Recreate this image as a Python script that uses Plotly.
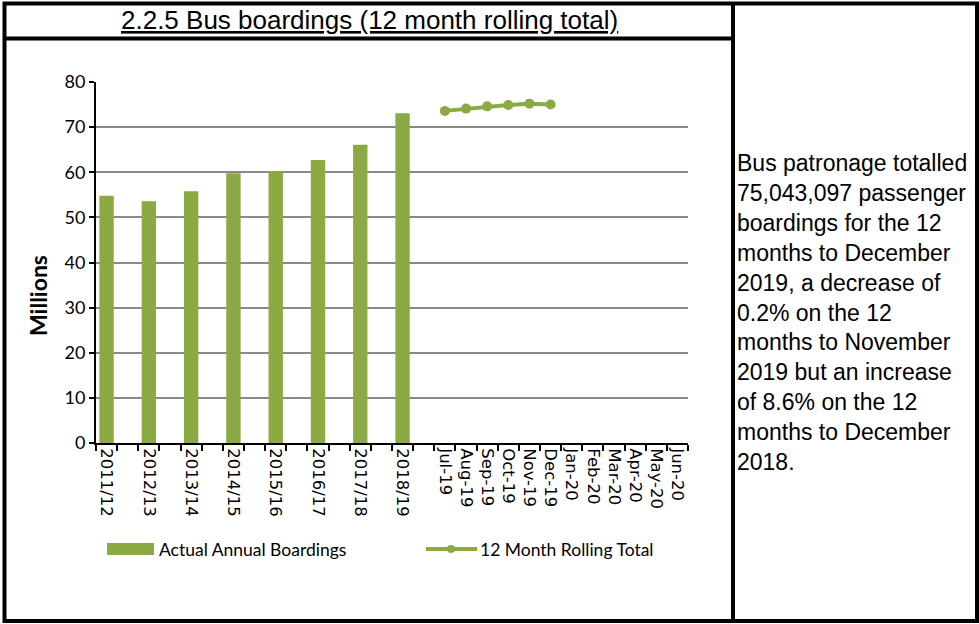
import plotly.graph_objects as go

# ---------------- data ----------------
years = ["2011/12", "2012/13", "2013/14", "2014/15", "2015/16", "2016/17", "2017/18", "2018/19"]
year_values = [54.8, 53.6, 55.8, 59.8, 60.3, 62.7, 66.1, 73.1]

months = ["Jul-19", "Aug-19", "Sep-19", "Oct-19", "Nov-19", "Dec-19",
          "Jan-20", "Feb-20", "Mar-20", "Apr-20", "May-20", "Jun-20"]
month_values = [73.6, 74.1, 74.6, 74.9, 75.2, 75.0, None, None, None, None, None, None]

y_ticks = [0, 10, 20, 30, 40, 50, 60, 70, 80]

title_text = "2.2.5 Bus boardings (12 month rolling total)"
side_text = ("Bus patronage totalled<br>75,043,097 passenger<br>boardings for the 12<br>"
             "months to December<br>2019, a decrease of<br>0.2% on the 12<br>"
             "months to November<br>2019 but an increase<br>of 8.6% on the 12<br>"
             "months to December<br>2018.")

# category order: each year followed by an empty spacer slot, then months
categories = []
for i, y in enumerate(years):
    categories.append(y)
    categories.append(" " * (i + 1))
categories += months

GREEN = "#8BAA44"

W, H = 979, 624
L, R, T, B = 96, 688, 82, 443  # plot area in pixels


def px(x):
    return (x - L) / (R - L)


def py(y):
    return (B - y) / (B - T)


fig = go.Figure()
fig.add_trace(go.Scatter(x=categories, y=[None] * len(categories), mode="markers",
                         showlegend=False, hoverinfo="skip"))
fig.add_trace(go.Bar(x=years, y=year_values, marker=dict(color=GREEN, line=dict(width=0)),
                     name="Actual Annual Boardings", showlegend=False))
fig.add_trace(go.Scatter(x=months, y=month_values, mode="lines+markers",
                         line=dict(color=GREEN, width=4),
                         marker=dict(color=GREEN, size=10),
                         name="12 Month Rolling Total", showlegend=False))

fig.update_layout(
    width=W, height=H, autosize=False,
    margin=dict(l=L, r=W - R, t=T, b=H - B, pad=0),
    paper_bgcolor="white", plot_bgcolor="white",
    bargap=0.32,
    font=dict(family="Liberation Sans, Arial", color="black"),
    xaxis=dict(type="category", categoryorder="array", categoryarray=categories,
               range=[-0.5, len(categories) - 0.5], tickson="boundaries",
               showline=True, linecolor="black", linewidth=2,
               ticks="outside", ticklen=6, tickcolor="black", tickwidth=1.5,
               tickangle=90, tickfont=dict(family="DejaVu Sans", size=16.5, color="black"),
               showgrid=False, fixedrange=True),
    yaxis=dict(range=[0, 80], tickvals=y_ticks, showline=True, linecolor="black", linewidth=2,
               ticks="outside", ticklen=5, tickcolor="black", tickwidth=1.5,
               showgrid=True, gridcolor="#8a8a8a", gridwidth=1.5, zeroline=False,
               tickfont=dict(family="Lato", size=18, color="black"), fixedrange=True),
    showlegend=False,
)

shapes = []
lw = 4
# outer frame and dividers
shapes.append(dict(type="rect", xref="paper", yref="paper", x0=px(4.5), x1=px(977), y0=py(3.5), y1=py(621),
                   line=dict(color="black", width=lw)))
shapes.append(dict(type="line", xref="paper", yref="paper", x0=px(733), x1=px(733), y0=py(3.5), y1=py(621),
                   line=dict(color="black", width=lw)))
shapes.append(dict(type="line", xref="paper", yref="paper", x0=px(4.5), x1=px(733), y0=py(38.5), y1=py(38.5),
                   line=dict(color="black", width=lw)))
# legend swatches
shapes.append(dict(type="rect", xref="paper", yref="paper", x0=px(107), x1=px(154), y0=py(543), y1=py(555),
                   line=dict(width=0), fillcolor=GREEN))
shapes.append(dict(type="line", xref="paper", yref="paper", x0=px(426), x1=px(477), y0=py(549), y1=py(549),
                   line=dict(color=GREEN, width=4)))
shapes.append(dict(type="circle", xref="paper", yref="paper", x0=px(447), x1=px(455), y0=py(545), y1=py(553),
                   line=dict(width=0), fillcolor=GREEN))
fig.update_layout(shapes=shapes)

ann = []
ann.append(dict(xref="paper", yref="paper", x=px(369), y=py(20), xanchor="center", yanchor="middle",
                text="<u>" + title_text + "</u>", showarrow=False,
                font=dict(family="Liberation Sans, Arial", size=26, color="black")))
ann.append(dict(xref="paper", yref="paper", x=px(38), y=py(296), xanchor="center", yanchor="middle",
                text="<b>Millions</b>", textangle=-90, showarrow=False,
                font=dict(family="Lato", size=23, color="black")))
ann.append(dict(xref="paper", yref="paper", x=px(157), y=py(549), xanchor="left", yanchor="middle",
                text="Actual Annual Boardings", showarrow=False,
                font=dict(family="Lato", size=17.5, color="black")))
ann.append(dict(xref="paper", yref="paper", x=px(478), y=py(549), xanchor="left", yanchor="middle",
                text="12 Month Rolling Total", showarrow=False,
                font=dict(family="Lato", size=17.5, color="black")))
ann.append(dict(xref="paper", yref="paper", x=px(735), y=py(312), xanchor="left", yanchor="middle",
                text=side_text, showarrow=False, align="left",
                font=dict(family="Liberation Sans, Arial", size=23, color="black")))
fig.update_layout(annotations=ann)

fig.write_html("out.html", config={"displayModeBar": False},
               post_script="document.body.style.margin='0';document.body.style.overflow='hidden';")
